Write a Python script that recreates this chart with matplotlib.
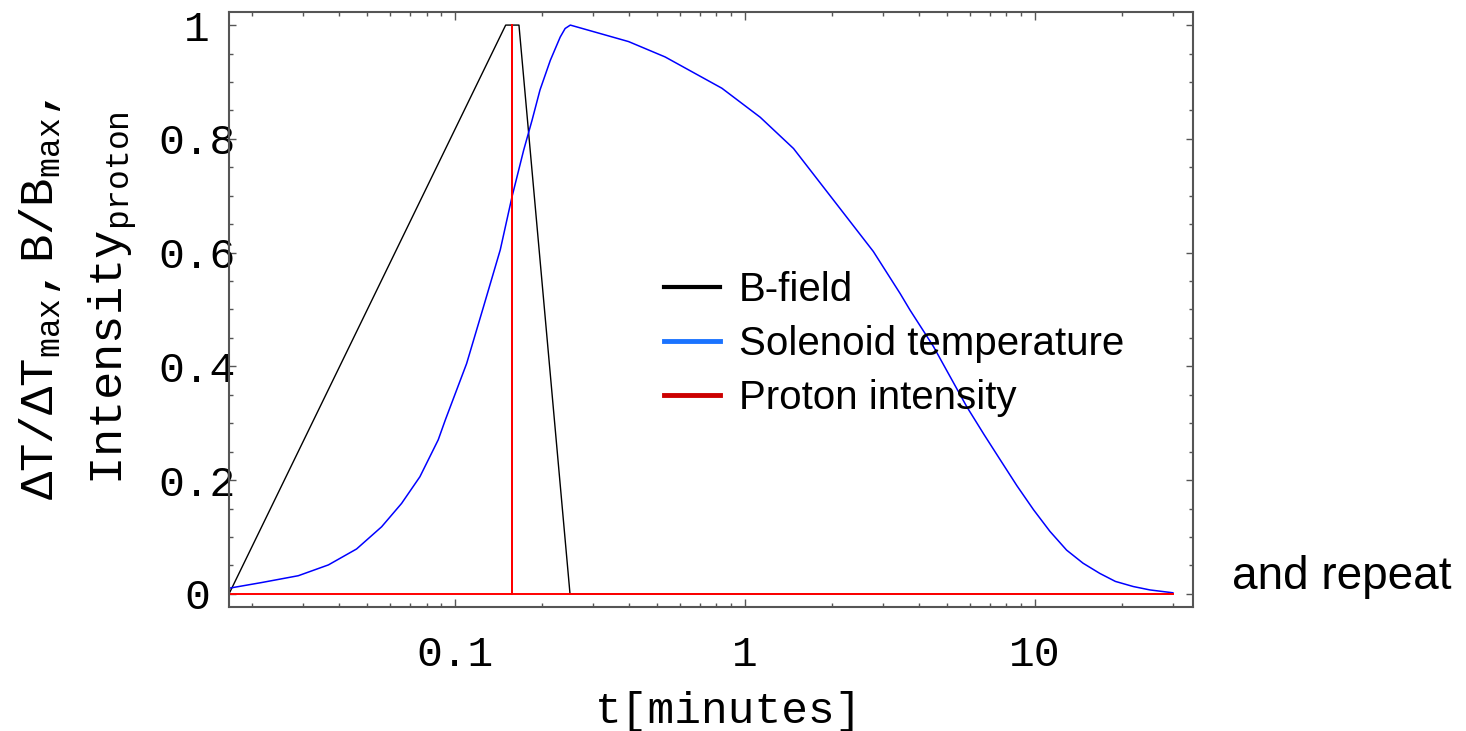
import matplotlib
matplotlib.use("Agg")
import matplotlib.pyplot as plt
from matplotlib.lines import Line2D
import numpy as np

# time axis in minutes, log scale
t_bfield = np.array([1, 9, 10, 15, 1800]) / 60.0
bfield = [0, 1, 1, 0, 0]

t_proton = np.array([1, 9.5, 9.5, 9.5, 1800]) / 60.0
proton = [0, 0, 1, 0, 0]

t_temp = [0.01667, 0.0216, 0.0289, 0.0367, 0.0459, 0.056, 0.0656, 0.0759, 0.0878,
          0.0929, 0.110, 0.1258, 0.1437, 0.1577, 0.173, 0.185, 0.197, 0.2138, 0.2313,
          0.2405, 0.2506, 0.398, 0.532, 0.835, 1.132, 1.475, 2.78, 3.44, 3.72, 4.48,
          5.84, 6.7, 7.61, 8.7, 9.92, 11.3, 12.9, 14.7, 16.8, 19.0, 21.9, 25.0, 30.0]
temp = [0.010, 0.020, 0.032, 0.051, 0.079, 0.118, 0.159, 0.206, 0.271,
        0.306, 0.405, 0.505, 0.605, 0.698, 0.780, 0.833, 0.886, 0.938, 0.979,
        0.994, 1.0, 0.971, 0.944, 0.889, 0.838, 0.783, 0.602, 0.528, 0.499, 0.435,
        0.329, 0.280, 0.236, 0.190, 0.148, 0.110, 0.077, 0.054, 0.036, 0.022,
        0.013, 0.007, 0.002]

y_ticks = [0, 0.2, 0.4, 0.6, 0.8, 1]
y_ticklabels = ["0", "0.2", "0.4", "0.6", "0.8", "1"]
x_ticks = [0.1, 1, 10]
x_ticklabels = ["0.1", "1", "10"]
legend_labels = ["B-field", "Solenoid temperature", "Proton intensity"]

mono = "Liberation Mono"
plt.rcParams["mathtext.fontset"] = "custom"
plt.rcParams["mathtext.rm"] = mono
plt.rcParams["mathtext.it"] = mono

W, H = 1466, 731
fig = plt.figure(figsize=(W / 100, H / 100), dpi=100)
ax = fig.add_axes([229 / W, 1 - 607 / H, 964 / W, 595 / H])

ax.plot(t_bfield, bfield, color="black", lw=1.0)
ax.plot(t_temp, temp, color="#0000ff", lw=1.1)
ax.plot(t_proton, proton, color="#ff0000", lw=1.4)

ax.set_xscale("log")
ax.set_xlim(1 / 60, 35.2)
ax.set_ylim(-0.023, 1.023)

ax.set_xticks(x_ticks)
ax.set_xticklabels(x_ticklabels)
minor = [m * d for d in (0.01, 0.1, 1, 10) for m in range(2, 10)]
ax.set_xticks([m for m in minor if 1 / 60 < m < 35], minor=True)
ax.set_yticks(y_ticks)
ax.set_yticklabels(y_ticklabels)
ax.set_yticks(np.arange(0, 1.01, 0.05), minor=True)

ax.tick_params(which="both", direction="in", top=True, right=True,
               color="#555555", width=1.0)
ax.tick_params(which="major", length=5)
ax.tick_params(which="minor", length=2.8)
ax.tick_params(axis="x", which="major", length=6, labelsize=31, pad=20)
ax.tick_params(axis="y", labelsize=31, pad=23)
for lab in ax.get_xticklabels() + ax.get_yticklabels():
    lab.set_fontfamily(mono)
for lab in ax.get_yticklabels():
    lab.set_horizontalalignment("center")
for s in ax.spines.values():
    s.set_color("#555555")
    s.set_linewidth(1.5)

handles = [Line2D([], [], color="black", lw=3),
           Line2D([], [], color="#1a73ff", lw=3.5),
           Line2D([], [], color="#cc0000", lw=3.5)]
ax.legend(handles, legend_labels, loc="upper left",
          bbox_to_anchor=(664 / W, 1 - 271 / H), bbox_transform=fig.transFigure,
          frameon=False, borderpad=0, borderaxespad=0,
          prop={"family": "Liberation Sans", "size": 29},
          handlelength=1.4, handletextpad=0.45, labelspacing=0.4)

fig.text(1232 / W, 1 - 577 / H, "and repeat", family="Liberation Sans",
         fontsize=33, ha="left", va="center")

# axis labels
fig.text(40 / W, 1 - 500 / H, r"$\mathrm{ΔT/ΔT_{max},B/B_{max},}$",
         rotation=90, ha="center", va="bottom", fontsize=34)
fig.text(113 / W, 1 - 485 / H, r"$\mathrm{Intensity_{proton}}$",
         rotation=90, ha="center", va="bottom", fontsize=34)
fig.text(729 / W, 1 - 712 / H, "t[minutes]", family=mono,
         ha="center", va="center", fontsize=32)

fig.savefig("out.png", dpi=100)
